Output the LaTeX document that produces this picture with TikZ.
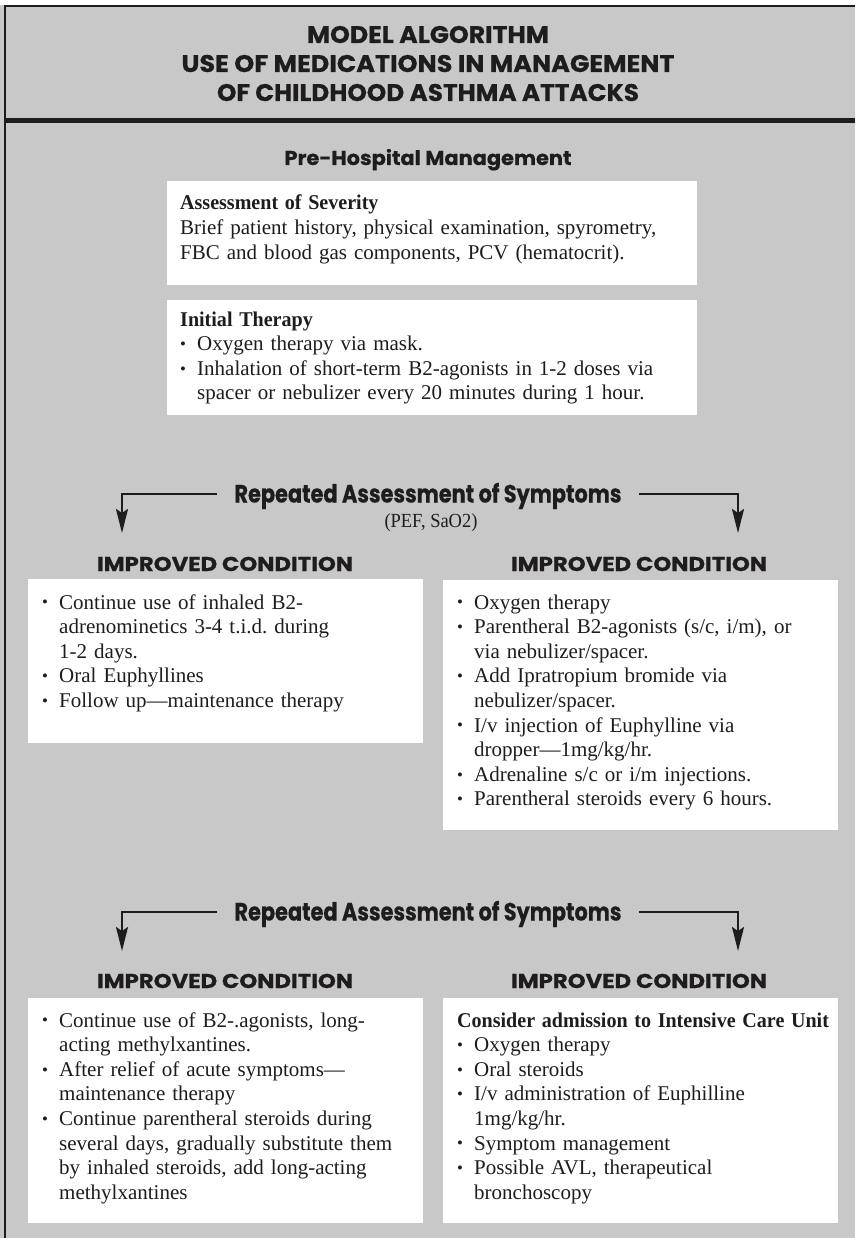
\documentclass[tikz,border=0pt]{standalone}
\usepackage{fontspec}
\usepackage{graphicx}
\setmainfont{Liberation Serif}
\newfontfamily\hfont{Poppins}[BoldFeatures={FakeBold=0.5}]
\usetikzlibrary{arrows.meta}
\definecolor{bg}{RGB}{200,200,200}
\definecolor{ink}{RGB}{30,28,29}
\newcommand\bitem{\makebox[17pt][l]{\raisebox{1.2pt}{\scalebox{0.8}{•}}}}
\newcommand\bcont{\hspace*{17pt}}
\newcommand\fitw[2]{\resizebox{#1}{\height}{#2}}
\newcommand\hb[1]{\scalebox{0.955}[1]{\textbf{#1}}}
\frenchspacing
\begin{document}
\begin{tikzpicture}[x=1pt,y=-1pt,
  wbox/.style={fill=white, draw=none, inner sep=0pt, anchor=north west},
  body/.style={anchor=base west, inner sep=0pt, text width=650pt, align=left,
    font=\fontsize{21}{24.6}\selectfont, text=ink},
  ttl/.style={anchor=base, inner sep=0pt, font=\hfont\bfseries\fontsize{24}{30}\selectfont, text=ink},
  head/.style={anchor=base, inner sep=0pt, font=\hfont\bfseries\fontsize{20}{24}\selectfont, text=ink},
  rep/.style={inner ysep=0pt, inner xsep=17pt, text height=17pt, text depth=0pt,
    font=\hfont\bfseries\fontsize{25}{30}\selectfont, text=ink},
  conn/.style={draw=ink, line width=2.2pt, -{Stealth[length=24pt,width=12pt,inset=4pt]}},
]
\useasboundingbox (0,0) rectangle (855,1238);
\fill[bg] (0,0) rectangle (855,1238);
\fill[white] (0,0) rectangle (855,5);
\draw[ink, line width=2pt] (5,1238) -- (5,6) -- (855,6);
\fill[ink] (5,118) rectangle (855,123.5);

% title
\node[ttl] (t1) at (428,43) {\fitw{242pt}{MODEL ALGORITHM}};
\node[ttl] (t2) at (428,72) {\fitw{493pt}{USE OF MEDICATIONS IN MANAGEMENT}};
\node[ttl] (t3) at (428,101) {\fitw{422pt}{OF CHILDHOOD ASTHMA ATTACKS}};

% pre-hospital
\node[head] (pre) at (428,165) {\fitw{287pt}{Pre-Hospital Management}};
\node[wbox, minimum width=530pt, minimum height=104pt] (b1) at (167,181) {};
\node[body] (b1t) at (180,210) {\hb{Assessment of Severity}\\
Brief patient history, physical examination, spyrometry,\\
FBC and blood gas components, PCV (hematocrit).};
\node[wbox, minimum width=530pt, minimum height=115pt] (b2) at (167,300) {};
\node[body] (b2t) at (180,326) {\hb{Initial Therapy}\\
\bitem Oxygen therapy via mask.\\
\bitem Inhalation of short-term B2-agonists in 1-2 doses via\\
\bcont spacer or nebulizer every 20 minutes during 1 hour.};

% first repeated assessment
\node[rep] (rep1) at (428,494) {\fitw{387pt}{Repeated Assessment of Symptoms}};
\node[anchor=base, inner sep=0pt, font=\fontsize{20}{22}\selectfont, text=ink] (pef) at (431,527) {\fitw{93pt}{(PEF, SaO2)}};
\coordinate (a1L) at (122,533);
\coordinate (a1R) at (738,533);
\draw[conn] (rep1.west) -| (a1L);
\draw[conn] (rep1.east) -| (a1R);

\node[head] (h1L) at (225,571) {\fitw{256pt}{IMPROVED CONDITION}};
\node[head] (h1R) at (639,571) {\fitw{256pt}{IMPROVED CONDITION}};

\node[wbox, minimum width=395pt, minimum height=164pt] (l1) at (28,579) {};
\node[body] (l1t) at (42,609) {\bitem Continue use of inhaled B2-\\
\bcont adrenominetics 3-4 t.i.d. during\\
\bcont 1-2 days.\\
\bitem Oral Euphyllines\\
\bitem Follow up---maintenance therapy};

\node[wbox, minimum width=395pt, minimum height=250pt] (r1) at (443,580) {};
\node[body] (r1t) at (457,609) {\bitem Oxygen therapy\\
\bitem Parentheral B2-agonists (s/c, i/m), or\\
\bcont via nebulizer/spacer.\\
\bitem Add Ipratropium bromide via\\
\bcont nebulizer/spacer.\\
\bitem I/v injection of Euphylline via\\
\bcont dropper---1mg/kg/hr.\\
\bitem Adrenaline s/c or i/m injections.\\
\bitem Parentheral steroids every 6 hours.};

% second repeated assessment
\node[rep] (rep2) at (428,912) {\fitw{387pt}{Repeated Assessment of Symptoms}};
\coordinate (a2L) at (122,951);
\coordinate (a2R) at (738,951);
\draw[conn] (rep2.west) -| (a2L);
\draw[conn] (rep2.east) -| (a2R);

\node[head] (h2L) at (225,988) {\fitw{256pt}{IMPROVED CONDITION}};
\node[head] (h2R) at (639,988) {\fitw{256pt}{IMPROVED CONDITION}};

\node[wbox, minimum width=395pt, minimum height=225pt] (l2) at (28,998) {};
\node[body] (l2t) at (42,1027) {\bitem Continue use of B2-.agonists, long-\\
\bcont acting methylxantines.\\
\bitem After relief of acute symptoms---\\
\bcont maintenance therapy\\
\bitem Continue parentheral steroids during\\
\bcont several days, gradually substitute them\\
\bcont by inhaled steroids, add long-acting\\
\bcont methylxantines};

\node[wbox, minimum width=395pt, minimum height=225pt] (r2) at (443,998) {};
\node[body] (r2t) at (457,1027) {\hb{Consider admission to Intensive Care Unit}\\
\bitem Oxygen therapy\\
\bitem Oral steroids\\
\bitem I/v administration of Euphilline\\
\bcont 1mg/kg/hr.\\
\bitem Symptom management\\
\bitem Possible AVL, therapeutical\\
\bcont bronchoscopy};
\end{tikzpicture}
\end{document}
